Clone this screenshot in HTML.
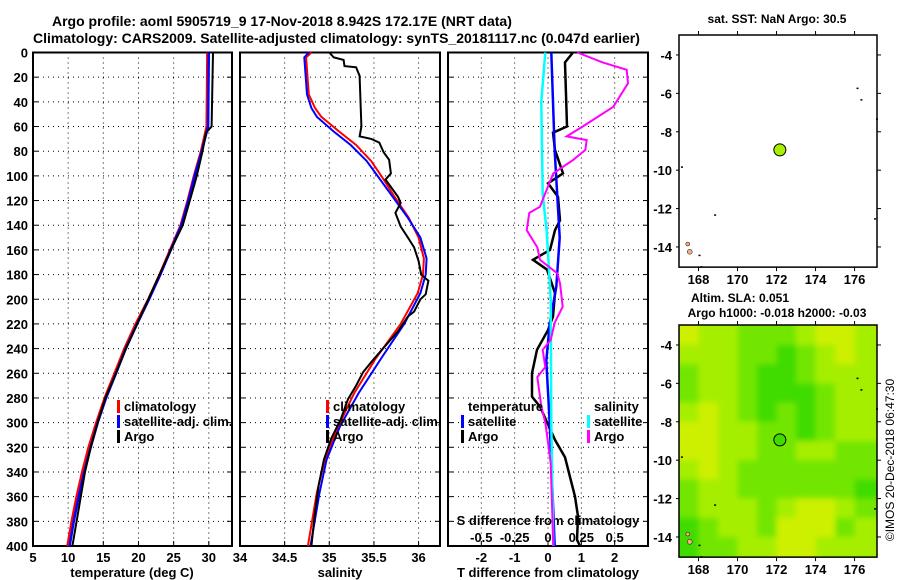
<!DOCTYPE html>
<html><head><meta charset="utf-8"><style>
body{margin:0;background:#fff}
svg{display:block;font-family:"Liberation Sans",sans-serif;font-weight:bold}
</style></head><body>
<svg id="c" width="900" height="580" viewBox="0 0 900 580">
<defs>
<filter id="bl" x="-5%" y="-5%" width="110%" height="110%"><feGaussianBlur stdDeviation="3" edgeMode="duplicate"/></filter>
<clipPath id="clipSla"><rect x="679" y="325" width="198" height="232"/></clipPath>
</defs>
<text x="52" y="26" font-size="14">Argo profile: aoml 5905719_9 17-Nov-2018 8.942S 172.17E (NRT data)</text>
<text x="33" y="43" font-size="14">Climatology: CARS2009. Satellite-adjusted climatology: synTS_20181117.nc (0.047d earlier)</text>
<text x="777" y="23" font-size="12" text-anchor="middle">sat. SST: NaN Argo: 30.5</text>
<text x="740" y="302" font-size="12" text-anchor="middle">Altim. SLA: 0.051</text>
<text x="777" y="317" font-size="12" text-anchor="middle">Argo h1000: -0.018 h2000: -0.03</text>
<text transform="translate(894,460) rotate(-90)" font-size="12" font-weight="normal" text-anchor="middle">©IMOS 20-Dec-2018 06:47:30</text>
</svg>
<script>
// ---- data ----
const depthTicks=[0,20,40,60,80,100,120,140,160,180,200,220,240,260,280,300,320,340,360,380,400];
const tempTicks=[5,10,15,20,25,30];
const salTicks=[34,34.5,35,35.5,36];
const salTickLabels=["34","34.5","35","35.5","36"];
const dTTicks=[-2,-1,0,1,2];
const dSTickLabels=["-0.5","-0.25","0","0.25","0.5"];
const dSTicks=[-0.5,-0.25,0,0.25,0.5];

const tArgoD=[0,60,65,80,100,120,140,160,180,200,220,240,260,280,300,320,340,360,380,400];
const tArgo=[30.6,30.4,29.6,29.1,28.3,27.3,26.3,24.6,23.0,21.4,19.8,18.2,16.8,15.3,14.2,13.2,12.4,11.8,11.2,10.6];
const tClimD=[0,60,80,100,120,140,160,180,200,220,240,260,280,300,320,340,360,380,400];
const tClim=[29.8,29.7,28.9,27.9,27.0,26.0,24.5,23.0,21.4,19.6,18.0,16.6,15.2,14.0,12.9,12.0,11.2,10.5,9.9];
const tSat=[30.0,29.9,29.0,28.0,27.1,26.1,24.6,23.1,21.5,19.8,18.2,16.8,15.4,14.2,13.2,12.3,11.5,10.8,10.2];

const sArgoD=[0,4,6,11,12,19,60,68,70,73,81,87,98,103,109,117,122,130,141,150,158,169,180,185,196,200,210,214,226,240,251,259,270,281,297,313,330,351,373,400];
const sArgo=[35.0,35.05,35.16,35.17,35.3,35.34,35.36,35.34,35.47,35.56,35.61,35.67,35.69,35.63,35.69,35.77,35.8,35.74,35.8,35.88,35.95,36.0,36.03,36.11,36.08,36.02,35.95,35.88,35.77,35.6,35.47,35.38,35.3,35.21,35.13,35.02,34.94,34.88,34.84,34.8];
const sClimD=[0,4,34,45,52,64,75,88,102,118,134,150,167,180,195,220,248,276,303,330,357,400];
const sClim=[34.8,34.74,34.77,34.84,34.91,35.11,35.3,35.47,35.6,35.74,35.89,36.0,36.06,36.05,35.99,35.8,35.52,35.28,35.1,34.95,34.86,34.76];
const sSat=[34.77,34.72,34.75,34.8,34.86,35.05,35.24,35.42,35.56,35.72,35.88,36.02,36.09,36.08,36.02,35.84,35.58,35.33,35.12,34.97,34.89,34.79];

const dTArgoD=[0,8,60,65,79,98,106,117,136,144,160,168,176,195,214,225,241,260,279,287,314,328,344,360,376,395,400];
const dTArgo=[0.75,0.51,0.57,0.15,0.21,0.45,0,0.3,0.36,0.21,0.06,-0.45,-0.03,0.21,0.15,0,-0.33,-0.48,-0.48,-0.24,0.21,0.51,0.66,0.81,0.9,0.87,0.96];
const dTSatD=[0,80,150,190,220,250,300,400];
const dTSat=[0.1,0.2,0.35,0.25,0.05,-0.05,0.05,0.2];
const dSSatD=[0,40,115,145,200,300,400];
const dSSat=[-0.02,-0.05,-0.04,-0.01,0.02,0.025,0.04];
const dSArgoD=[0,8,14,25,44,60,68,71,79,87,98,114,125,130,144,158,168,179,187,206,219,233,241,255,263,279,287,300,316,333,400];
const dSArgo=[0.22,0.41,0.59,0.6,0.49,0.26,0.14,0.29,0.28,0.19,0.04,-0.02,-0.06,-0.14,-0.16,-0.08,-0.06,0.07,0.09,0.11,0.05,0.02,-0.04,-0.02,-0.08,-0.06,-0.05,-0.02,0,0.02,0.04];

const lonTicks=[168,170,172,174,176];
const latTicks=[-4,-6,-8,-10,-12,-14];
const argoLon=172.17, argoLat=-8.942;
// SLA colour classes, rows lat -3..-15 (1 deg), cols lon 167..177
const slaGrid=[
[0,1,1,2,2,2,1,0,0,1],
[1,1,1,2,2,3,2,1,0,1],
[2,1,1,2,3,3,2,1,1,1],
[2,1,1,2,3,3,3,2,1,1],
[1,0,1,2,3,2,3,2,1,1],
[0,0,1,1,2,2,3,2,1,1],
[0,0,1,1,2,2,1,1,2,2],
[1,0,1,2,2,2,2,2,2,2],
[2,1,1,2,2,2,2,2,2,3],
[2,1,1,1,2,1,0,0,1,2],
[3,2,1,1,2,0,0,0,2,1],
[3,2,2,1,1,0,0,1,1,1]];

// ---- drawing ----
const svg=document.getElementById('c');
const NS='http://www.w3.org/2000/svg';
function mk(tag,at,parent){const e=document.createElementNS(NS,tag);for(const k in at)e.setAttribute(k,at[k]);(parent||svg).appendChild(e);return e;}
function txt(x,y,s,size,anchor,parent){const t=mk('text',{x:x,y:y,'font-size':size,'text-anchor':anchor||'middle'},parent);t.textContent=s;return t;}
const Y0=52.5,Y1=546;
const yD=d=>Y0+(Y1-Y0)*d/400;
const panels=[
 {x0:33,x1:232,lo:5,hi:33.3,name:'temperature-panel'},
 {x0:240,x1:440,lo:34,hi:36.24,name:'salinity-panel'},
 {x0:448,x1:648,lo:-3,hi:3,name:'difference-panel'}];
panels.forEach(p=>p.x=v=>p.x0+(p.x1-p.x0)*(v-p.lo)/(p.hi-p.lo));
const P1=panels[0],P2=panels[1],P3=panels[2];
const xS3=v=>P3.x(v*4);

panels.forEach((p,i)=>{
 const g=mk('g',{});
 
 
 depthTicks.slice(1,-1).forEach(d=>{mk('line',{x1:p.x0,x2:p.x1,y1:yD(d),y2:yD(d),stroke:'#000','stroke-width':1,'stroke-dasharray':'1,4'},g);
  mk('line',{x1:p.x0,x2:p.x0+5,y1:yD(d),y2:yD(d),stroke:'#000'},g);mk('line',{x1:p.x1-5,x2:p.x1,y1:yD(d),y2:yD(d),stroke:'#000'},g);});
 let vt=i==0?tempTicks.slice(1):i==1?salTicks.slice(1):dTTicks;
 vt.forEach(v=>{const x=p.x(v);mk('line',{x1:x,x2:x,y1:Y0,y2:Y1,stroke:'#000','stroke-dasharray':'1,4'},g);
  mk('line',{x1:x,x2:x,y1:Y1-5,y2:Y1,stroke:'#000'},g);});
 const fr=mk('rect',{x:p.x0,y:Y0,width:p.x1-p.x0,height:Y1-Y0,fill:'none',stroke:'#000','stroke-width':2},g);
 
 
});
depthTicks.forEach(d=>{const t=txt(28,yD(d)+5,String(d),13,'end');
 
 });
tempTicks.forEach(v=>{const t=txt(P1.x(v),562,String(v),13);
 
 });
salTicks.forEach((v,i)=>{const t=txt(P2.x(v),562,salTickLabels[i],13);
 
 });
dTTicks.forEach(v=>{const t=txt(P3.x(v),562,String(v),13);
 
 });
dSTicks.forEach((v,i)=>{const t=txt(xS3(v),542,dSTickLabels[i],13);
 
 });
[[132,'temperature (deg C)','temperature-axis-title'],[340,'salinity','salinity-axis-title'],[548,'T difference from climatology','t-diff-axis-title'],].forEach(a=>{const t=txt(a[0],577,a[1],13);
 
 });
{const t=txt(548,525,'S difference from climatology',13);
 
 }

function line(xf,vals,ds,color,w,name){
 const pts=vals.map((v,i)=>xf(v).toFixed(1)+','+yD(ds[i]).toFixed(1)).join(' ');
 const pl=mk('polyline',{points:pts,fill:'none',stroke:color,'stroke-width':w,'stroke-linejoin':'miter'});
 
 
}
line(P1.x,tClim,tClimD,'#f00',2.5,'temp-climatology-line');
line(P1.x,tSat,tClimD,'#00f',2.5,'temp-satellite-line');
line(P1.x,tArgo,tArgoD,'#000',2,'temp-argo-line');
line(P2.x,sClim,sClimD,'#f00',2,'sal-climatology-line');
line(P2.x,sSat,sClimD,'#00f',2,'sal-satellite-line');
line(P2.x,sArgo,sArgoD,'#000',2,'sal-argo-line');
line(P3.x,dTArgo,dTArgoD,'#000',2.5,'t-diff-argo-line');
line(P3.x,dTSat,dTSatD,'#00f',2.5,'t-diff-satellite-line');
line(xS3,dSSat,dSSatD,'#0ff',2.5,'s-diff-satellite-line');
line(xS3,dSArgo,dSArgoD,'#f0f',2,'s-diff-argo-line');

function legend(x,y,items,name){
 const g=mk('g',{});
 
 
 items.forEach((it,i)=>{const yy=y+i*15;
  if(it[1])mk('rect',{x:x,y:yy-11,width:3,height:13,fill:it[1]},g);
  txt(x+7,yy,it[0],13,'start',g);});
}
legend(117,411,[['climatology','#f00'],['satellite-adj. clim.','#00f'],['Argo','#000']],'temp-legend');
legend(326,411,[['climatology','#f00'],['satellite-adj. clim.','#00f'],['Argo','#000']],'sal-legend');
legend(461,411,[['temperature',null],['satellite','#00f'],['Argo','#000']],'t-diff-legend');
legend(587,411,[['salinity',null],['satellite','#0ff'],['Argo','#f0f']],'s-diff-legend');

// maps
const MX0=679,MX1=877;
const mx=lon=>MX0+(MX1-MX0)*(lon-167)/(177.15-167);
function drawMap(top,withSla,name){
 const my=lat=>top+19.2*(-2.96-lat);
 const g=mk('g',{});
 
 
 const bot=my(-15.05);
 if(withSla){
  const cols=['#cdf000','#a6ee00','#72e600','#40dc00'];
  const cg=mk('g',{'clip-path':'url(#clipSla)'},g);
  const bg=mk('g',{filter:'url(#bl)'},cg);
  slaGrid.forEach((row,r)=>row.forEach((v,c)=>{
   let x0=mx(167+c),x1=mx(168+c),y0=my(-3-r),y1=my(-4-r);
   if(c==0)x0-=10; if(c==row.length-1)x1+=10; if(r==0)y0-=10; if(r==slaGrid.length-1)y1+=10;
   const cell=mk('rect',{x:x0,y:y0,width:x1-x0+0.5,height:y1-y0+0.5,fill:cols[v]},bg);
   
   
  }));
 }
 [[176.1,-5.7],[176.3,-6.3],[177.1,-7.3],[168.8,-12.3],[177,-12.5],[167.1,-9.8],[168,-14.4],[168.1,-15]].forEach(s=>mk('rect',{x:mx(s[0]),y:my(s[1]),width:2,height:1.5,fill:'#000'},g));
 mk('circle',{cx:mx(167.55),cy:my(-14.25),r:2.5,fill:'#f4b080',stroke:'#000','stroke-width':0.5},g);
 mk('circle',{cx:mx(167.45),cy:my(-13.85),r:2,fill:'#f4b080',stroke:'#000','stroke-width':0.5},g);
 mk('rect',{x:MX0,y:top,width:MX1-MX0,height:bot-top,fill:'none',stroke:'#000','stroke-width':1.5},g);
 lonTicks.forEach(l=>{mk('line',{x1:mx(l),x2:mx(l),y1:top,y2:top-4,stroke:'#000'},g);
  mk('line',{x1:mx(l),x2:mx(l),y1:bot,y2:bot+4,stroke:'#000'},g);
  const t=txt(mx(l),bot+17,String(l),13,'middle',g);
  
  });
 latTicks.forEach(l=>{mk('line',{x1:MX1,x2:MX1+4,y1:my(l),y2:my(l),stroke:'#000'},g);
  mk('line',{x1:MX0,x2:MX0-3,y1:my(l),y2:my(l),stroke:'#000'},g);
  const t=txt(672,my(l)+5,String(l),13,'end',g);
  
  });
 const m=mk('circle',{cx:mx(argoLon),cy:my(argoLat),r:6,fill:withSla?'#40dc00':'#a8f000',stroke:'#000','stroke-width':1},g);
 
 
}
drawMap(35,false,'sst-map');
drawMap(325,true,'sla-map');
</script>
</body></html>
